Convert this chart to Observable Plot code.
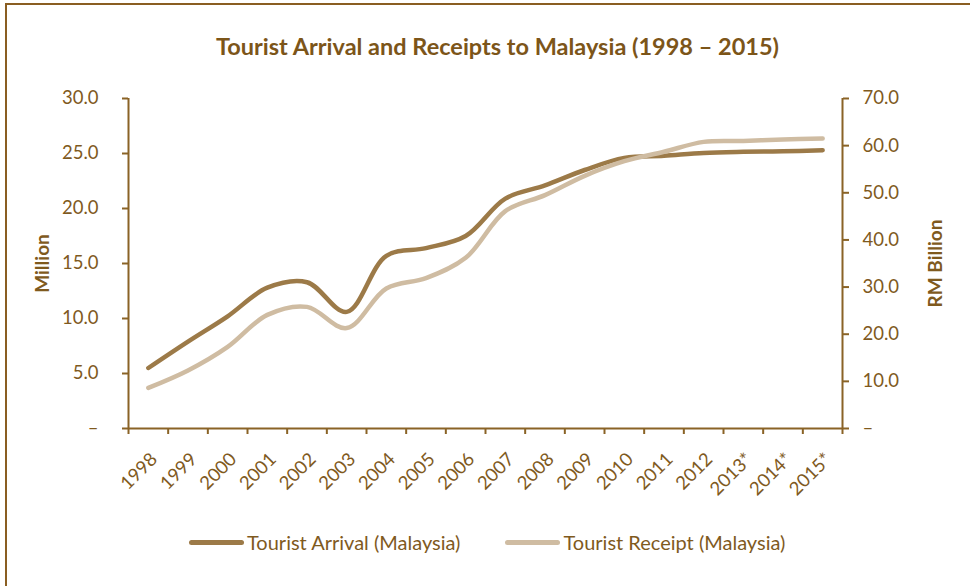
<!DOCTYPE html>
<html>
<head>
<meta charset="utf-8">
<script src="https://cdn.jsdelivr.net/npm/d3@7"></script>
<script src="https://cdn.jsdelivr.net/npm/@observablehq/plot@0.6"></script>
<style>
  html, body { margin: 0; padding: 0; background: #fff; }
  #wrap { position: relative; width: 970px; height: 586px; overflow: hidden; font-family: Lato, "Open Sans", sans-serif; }
  #frame { position: absolute; left: 5px; top: 3px; right: -10px; bottom: -10px; border-left: 2px solid #8a5e22; border-top: 2px solid #8a5e22; }
  #title { position: absolute; left: 0; width: 995px; top: 32px; text-align: center; font-size: 23.5px; font-weight: bold; color: #7c5519; }
  #chart { position: absolute; left: 0; top: 70px; }
  #legend { position: absolute; left: 189px; top: 530px; display: flex; align-items: center; font-size: 20px; color: #7f5a1e; white-space: nowrap; }
  .sw { display: inline-block; width: 55px; height: 5px; border-radius: 3px; margin-right: 3px; }
</style>
</head>
<body>
<div id="wrap">
  <div id="frame"></div>
  <div id="title">Tourist Arrival and Receipts to Malaysia (1998 – 2015)</div>
  <div id="chart"></div>
  <div id="legend"></div>
</div>
<script>
const years = ["1998","1999","2000","2001","2002","2003","2004","2005","2006","2007","2008","2009","2010","2011","2012","2013*","2014*","2015*"];
const arrivals = [5.5, 7.9, 10.2, 12.8, 13.3, 10.6, 15.7, 16.4, 17.5, 20.9, 22.1, 23.5, 24.6, 24.8, 25.05, 25.15, 25.2, 25.3];
const receipts = [8.6, 12.3, 17.3, 24.1, 25.8, 21.3, 29.7, 31.9, 36.2, 46.1, 49.5, 53.6, 56.7, 58.7, 60.8, 61.0, 61.3, 61.5];
const leftTicks = [0, 5, 10, 15, 20, 25, 30];
const rightTicks = [0, 10, 20, 30, 40, 50, 60, 70];
const seriesNames = ["Tourist Arrival (Malaysia)", "Tourist Receipt (Malaysia)"];
const seriesColors = ["#9c7a48", "#cfbca2"];

const leftMax = 30, rightMax = 70;
const k = leftMax / rightMax;
const axisColor = "#8a6326";
const textColor = "#7f5a1e";
const fmt = d => d === 0 ? "–" : d.toFixed(1);

const rows = years.map((y, i) => ({i, year: y, arrival: arrivals[i], receipt: receipts[i]}));

const plot = Plot.plot({
  width: 970,
  height: 440,
  marginLeft: 128,
  marginRight: 128,
  marginTop: 28,
  marginBottom: 82,
  style: {fontFamily: "Lato, 'Open Sans', sans-serif", background: "transparent"},
  x: {type: "linear", domain: [0, years.length], axis: null},
  y: {domain: [0, leftMax], axis: null},
  marks: [
    Plot.ruleY([0], {stroke: axisColor, strokeWidth: 2}),
    Plot.ruleX([0, years.length], {y1: 0, y2: leftMax, stroke: axisColor, strokeWidth: 2}),
    Plot.axisY(leftTicks, {anchor: "left", label: null, tickSize: 6, tickPadding: 24, tickFormat: fmt, color: axisColor, fill: textColor, fontSize: 18.5, strokeWidth: 2}),
    Plot.axisY(rightTicks.map(v => v * k), {anchor: "right", label: null, tickSize: 6, tickPadding: 14, tickFormat: d => fmt(Math.round(d / k)), color: axisColor, fill: textColor, fontSize: 18.5, strokeWidth: 2}),
    Plot.axisX(d3.range(0, years.length + 1), {anchor: "bottom", label: null, tickSize: 6, tickFormat: () => "", color: axisColor, strokeWidth: 2}),
    Plot.text(years, {x: (d, i) => i + 0.5, frameAnchor: "bottom", text: d => d, rotate: -45, textAnchor: "end", lineAnchor: "bottom", dx: 10, dy: 32, fill: textColor, fontSize: 18.5}),
    Plot.text(["Million"], {frameAnchor: "left", textAnchor: "middle", dx: -86, rotate: -90, fontWeight: "bold", fontSize: 19, fill: textColor}),
    Plot.text(["RM Billion"], {frameAnchor: "right", textAnchor: "middle", dx: 93, rotate: -90, fontWeight: "bold", fontSize: 19, fill: textColor}),
    Plot.line(rows, {x: d => d.i + 0.5, y: "arrival", curve: "catmull-rom", stroke: seriesColors[0], strokeWidth: 4.5, strokeLinecap: "round"}),
    Plot.line(rows, {x: d => d.i + 0.5, y: d => d.receipt * k, curve: "catmull-rom", stroke: seriesColors[1], strokeWidth: 4.5, strokeLinecap: "round"})
  ]
});
document.getElementById("chart").appendChild(plot);

const legend = document.getElementById("legend");
seriesNames.forEach((name, i) => {
  const item = document.createElement("span");
  item.style.display = "inline-flex";
  item.style.alignItems = "center";
  item.style.marginRight = i === 0 ? "45px" : "0";
  item.innerHTML = `<span class="sw" style="background:${seriesColors[i]}"></span><span>${name}</span>`;
  legend.appendChild(item);
});
</script>
</body>
</html>
